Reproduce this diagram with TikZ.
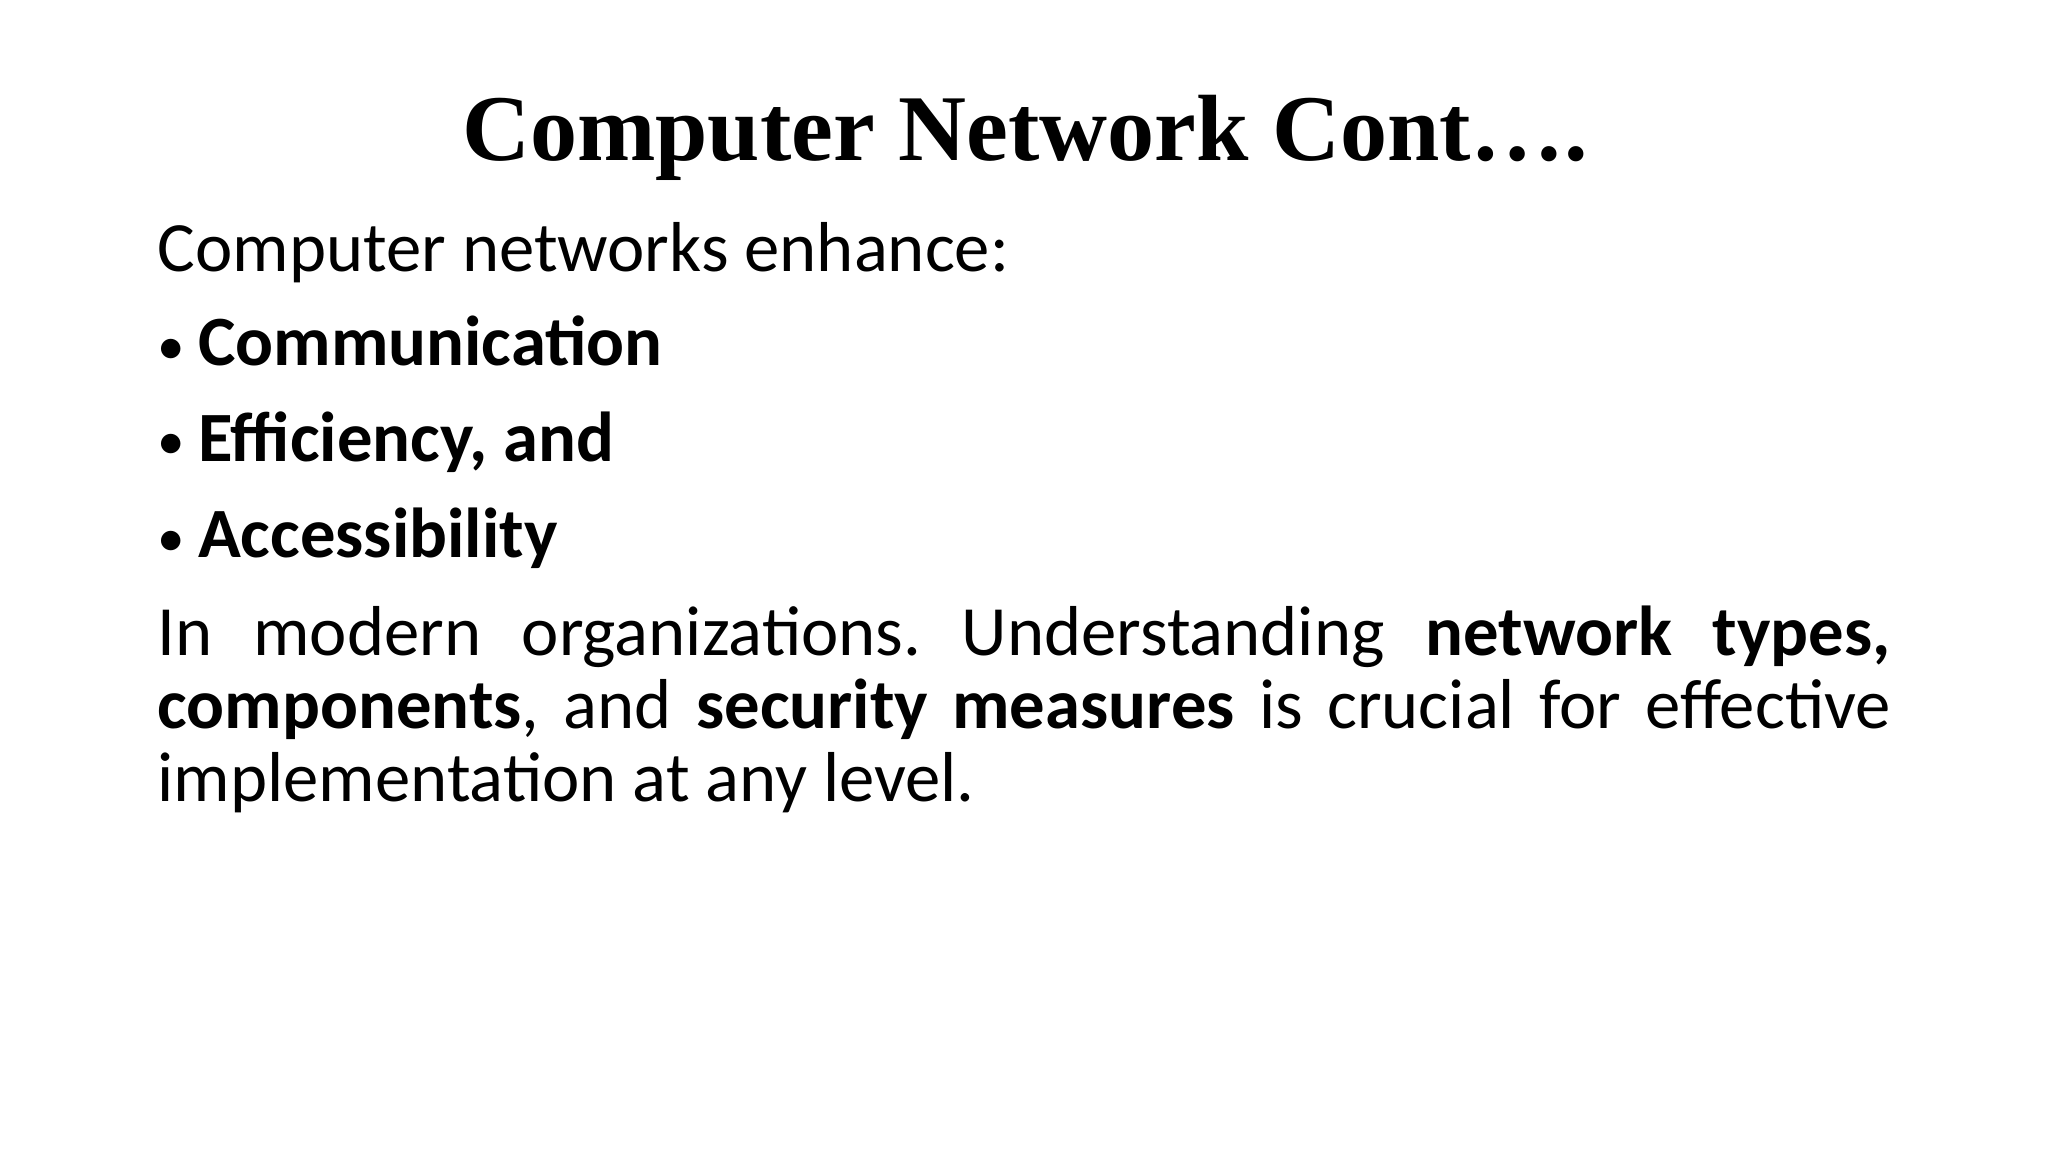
\documentclass[tikz,border=0pt]{standalone}
\usepackage{fontspec}
\setmainfont{Carlito}
\newfontfamily\titlefont{Liberation Serif}
\frenchspacing
\newcommand{\mybul}{{\fontsize{12pt}{12pt}\selectfont\raisebox{0.3pt}{•}}\hspace{0.1cm}}
\tikzset{body/.style={inner sep=0pt,anchor=base west,font=\fontsize{15.4pt}{18pt}\selectfont}}
\begin{document}
\begin{tikzpicture}
\useasboundingbox (0,0) rectangle (15.68,-8.82);
\node[inner sep=0pt,anchor=base,font=\titlefont\bfseries\fontsize{20.5pt}{24pt}\selectfont] (title) at (7.85,-1.23) {Computer Network Cont….};
\node[body] (intro) at (1.2,-2.08) {Computer networks enhance:};
\node[body] (b1) at (1.2,-2.80) {\mybul\textbf{Communication}};
\node[body] (b2) at (1.2,-3.53) {\mybul\textbf{Efficiency, and}};
\node[body] (b3) at (1.2,-4.27) {\mybul\textbf{Accessibility}};
\node[inner sep=0pt,anchor=north west,text width=13.27cm,align=justify,font=\fontsize{15.4pt}{15.9pt}\selectfont] (para) at (1.2,-4.63) {In modern organizations. Understanding \textbf{network types, components}, and \textbf{security measures} is crucial for effective implementation at any level.};
\end{tikzpicture}
\end{document}
